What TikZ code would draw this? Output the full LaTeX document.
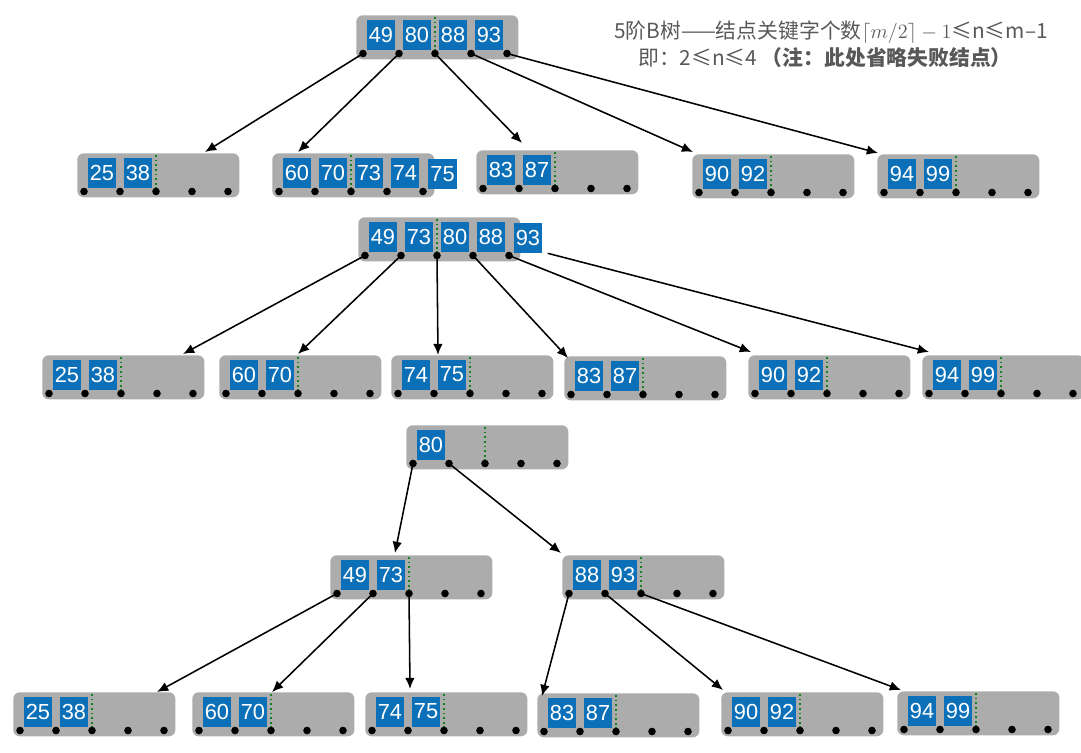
\documentclass[tikz,border=0pt]{standalone}
\usepackage{fontspec}
\usepackage{tikz}
\usetikzlibrary{arrows.meta,calc}
\newfontfamily\keyfont{Liberation Sans}
\newfontfamily\cjk{Noto Sans CJK SC}
\definecolor{keyblue}{RGB}{12,112,184}
\definecolor{nodegray}{RGB}{172,172,172}
\definecolor{splitgreen}{RGB}{20,130,30}
\definecolor{titlegray}{RGB}{88,88,88}
\tikzset{
  nodebox/.style={rectangle, fill=nodegray, rounded corners=0.16cm,
    minimum width=4.05cm, minimum height=1.1cm, inner sep=0pt},
  keybox/.style={rectangle, fill=keyblue, text=white, minimum width=0.72cm,
    minimum height=0.75cm, inner sep=0pt, font=\keyfont\fontsize{15.5}{15.5}\selectfont},
  splitline/.style={draw=splitgreen, dotted, line width=1.3pt},
  ptrdot/.style={fill=black},
  ptrarrow/.style={-{Latex[length=2.8mm, width=2.4mm]}, draw=black, line width=1.1pt},
  titletext/.style={text=titlegray, font=\cjk\fontsize{14.8}{14.8}\selectfont, inner sep=0pt},
}
% one B-tree node: name, left, top, keys
\newcommand{\bnode}[4]{%
  \node[nodebox, anchor=north west] (#1) at (#2,#3) {};
  \foreach \p in {0,...,4}
    \coordinate (#1-\p) at ($(#1.north west)+(7+36*\p,38.5)$);
  \draw[splitline] ($(#1.north west)+(79,2)$) -- (#1-2);
  \foreach \k [count=\i from 0] in {#4}
    \node[keybox] (#1-k\i) at ($(#1.north west)+(25+36*\i,19.5)$) {\k};
  \foreach \p in {0,...,4}
    \fill[ptrdot] (#1-\p) circle[radius=0.095cm];
}

\begin{document}
\begin{tikzpicture}[x=0.025cm, y=-0.025cm]
  \useasboundingbox (0,0) rectangle (1081,752);

  % Title (top right)
  \node[titletext] (title1) at (831,32) {5阶B树——结点关键字个数$\lceil m/2\rceil - 1$≤n≤m–1};
  \node[titletext] (title2) at (825,58) {即：2≤n≤4 \textbf{（注：此处省略失败结点）}};

  % First tree: root overflows into its children
  \bnode{ra}{356}{15}{49,80,88,93}
  \bnode{a1}{77}{153}{25,38}
  \bnode{a2}{272}{153}{60,70,73,74}
  \node[keybox] (a2-k4) at ($(a2.north west)+(170.5,21)$) {75};
  \bnode{a3}{476}{150}{83,87}
  \bnode{a4}{692}{154}{90,92}
  \bnode{a5}{877}{154}{94,99}

  \draw[ptrarrow] (ra-0) -- ($(a1.north west)+(128,-1)$);
  \draw[ptrarrow] (ra-1) -- ($(a2.north west)+(26,-1)$);
  \draw[ptrarrow] (ra-2) -- ($(a3.north west)+(46,-7)$);
  \draw[ptrarrow] (ra-3) -- ($(a4.north west)+(1,-2)$);
  \draw[ptrarrow] (ra-4) -- ($(a5.north west)+(1,-1)$);

  % Second tree: child split, root now full
  \bnode{rb}{358}{217}{49,73,80,88}
  \node[keybox] (rb-k4) at ($(rb.north west)+(170,21)$) {93};
  \coordinate (rb-5) at ($(rb-k4.south east)+(5,0)$);
  \bnode{b1}{42}{355}{25,38}
  \bnode{b2}{219}{355}{60,70}
  \bnode{b3}{391}{355}{74,75}
  \bnode{b4}{564}{356}{83,87}
  \bnode{b5}{748}{355}{90,92}
  \bnode{b6}{922}{355}{94,99}

  \draw[ptrarrow] (rb-0) -- ($(b1.north west)+(141,-1)$);
  \draw[ptrarrow] (rb-1) -- ($(b2.north west)+(79,-1)$);
  \draw[ptrarrow] (rb-2) -- ($(b3.north west)+(47,0)$);
  \draw[ptrarrow] (rb-3) -- ($(b4.north west)+(4,2)$);
  \draw[ptrarrow] (rb-4) -- ($(b5.north west)+(3,-3)$);
  \draw[ptrarrow] (rb-5) -- ($(b6.north west)+(7,-3)$);

  % Third tree: root split
  \bnode{rc}{406}{425}{80}
  \bnode{c1}{330}{555}{49,73}
  \bnode{c2}{562}{555}{88,93}
  \bnode{d1}{13}{692}{25,38}
  \bnode{d2}{192}{692}{60,70}
  \bnode{d3}{365}{692}{74,75}
  \bnode{d4}{537}{693}{83,87}
  \bnode{d5}{721}{692}{90,92}
  \bnode{d6}{897}{691}{94,99}

  \draw[ptrarrow] (rc-0) -- ($(c1.north west)+(65,-2)$);
  \draw[ptrarrow] (rc-1) -- ($(c2.north west)+(-1,-2)$);
  \draw[ptrarrow] (c1-0) -- ($(d1.north west)+(144,0)$);
  \draw[ptrarrow] (c1-1) -- ($(d2.north west)+(80,0)$);
  \draw[ptrarrow] (c1-2) -- ($(d3.north west)+(45,-3)$);
  \draw[ptrarrow] (c2-0) -- ($(d4.north west)+(5,3)$);
  \draw[ptrarrow] (c2-1) -- ($(d5.north west)+(2,-2)$);
  \draw[ptrarrow] (c2-2) -- ($(d6.north west)+(4,-1)$);

\end{tikzpicture}
\end{document}
